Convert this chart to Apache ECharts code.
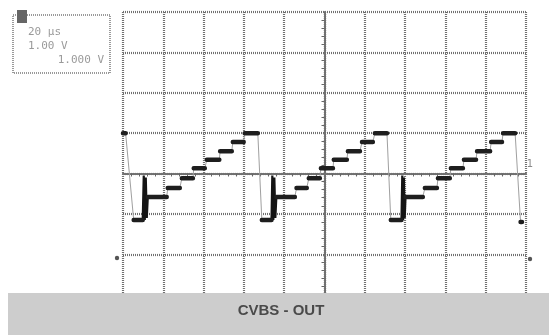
<!DOCTYPE html>
<html>
<head>
<meta charset="utf-8">
<script src="https://cdn.jsdelivr.net/npm/echarts@6/dist/echarts.min.js"></script>
<style>
  html, body { margin: 0; padding: 0; background: #fff; }
  #chart { width: 549px; height: 335px; }
</style>
</head>
<body>
<div id="chart"></div>
<script>
// Oscilloscope settings (screen readout)
const readout = ['20 µs', '1.00 V', '1.000 V'];
const title = 'CVBS - OUT';

// Time axis (µs, 20 µs/div, centred) and vertical axis (divisions)
const timeRange = [-100, 100];
const voltRange = [-4, 4];

// Trace: staircase luminance test signal
const traceTime = [
  -100, -98.7, -94.7, -90.2,
  -87.7, -78.3, -77.8, -71.8, -70.8, -65.3, -64.9, -59.4, -58.4, -52.2, -51.8, -46.0, -45.5, -40.1, -39.6, -33.1,
  -31.1, -26.3,
  -23.9, -14.7, -13.9, -8.8, -7.8, -2.3, -1.8, 4.2, 4.6, 11.1, 11.6, 17.6, 18.6, 24.0, 25.0, 31.0,
  32.9, 38.2,
  40.2, 48.8, 49.8, 55.8, 56.3, 62.2, 62.7, 68.7, 69.2, 75.2, 75.7, 82.2, 82.7, 88.1, 88.6, 94.6,
  97.3, 98.0
];
const traceVolt = [
  1.0, 1.0, -1.15, -1.15,
  -0.58, -0.58, -0.36, -0.36, -0.12, -0.12, 0.13, 0.13, 0.34, 0.34, 0.55, 0.55, 0.78, 0.78, 1.0, 1.0,
  -1.15, -1.15,
  -0.58, -0.58, -0.36, -0.36, -0.12, -0.12, 0.13, 0.13, 0.34, 0.34, 0.55, 0.55, 0.78, 0.78, 1.0, 1.0,
  -1.15, -1.15,
  -0.58, -0.58, -0.36, -0.36, -0.12, -0.12, 0.13, 0.13, 0.34, 0.34, 0.55, 0.55, 0.78, 0.78, 1.0, 1.0,
  -1.2, -1.2
];

// Colour bursts (one per line)
const burstTime = [
  [-90.2, -89.7, -89.2, -88.7, -88.2, -87.7],
  [-26.3, -25.9, -25.4, -24.9, -24.4, -23.9],
  [38.2, 38.6, 39.0, 39.4, 39.8, 40.2]
];
const burstVolt = [
  [-1.15, -0.05, -1.15, -0.1, -1.1, -0.58],
  [-1.15, -0.05, -1.15, -0.1, -1.1, -0.58],
  [-1.15, -0.05, -1.15, -0.1, -1.1, -0.58]
];

// thin full trace
const thinData = traceTime.map((t, i) => [t, traceVolt[i]]);
// thick horizontal dwell segments
const thickData = [];
for (let i = 0; i + 1 < traceTime.length; i++) {
  if (traceVolt[i] === traceVolt[i + 1]) {
    thickData.push([traceTime[i], traceVolt[i]], [traceTime[i + 1], traceVolt[i + 1]], [null, null]);
    i++;
  }
}
const burstSeries = burstTime.map((ts, k) => ({
  type: 'line', data: ts.map((t, i) => [t, burstVolt[k][i]]),
  symbol: 'none', silent: true, z: 4,
  lineStyle: { color: '#141414', width: 2.2 }
}));

const gridLine = { color: '#707070', width: 2.2, type: [1, 1] };

const chart = echarts.init(document.getElementById('chart'), null, { renderer: 'canvas' });
chart.setOption({
  backgroundColor: '#ffffff',
  animation: false,
  grid: { left: 123, right: 23, top: 12, bottom: 0, containLabel: false },
  xAxis: {
    type: 'value', min: timeRange[0], max: timeRange[1], interval: 20,
    axisLine: { show: true, onZero: true, lineStyle: gridLine },
    axisTick: { show: false },
    minorTick: { show: true, splitNumber: 5, length: 3, lineStyle: { color: '#666', width: 1 } },
    axisLabel: { show: false },
    splitLine: { show: true, lineStyle: gridLine }
  },
  yAxis: {
    type: 'value', min: voltRange[0], max: voltRange[1], interval: 1,
    axisLine: { show: true, onZero: true, lineStyle: gridLine },
    axisTick: { show: false },
    minorTick: { show: true, splitNumber: 5, length: 3, lineStyle: { color: '#666', width: 1 } },
    axisLabel: { show: false },
    splitLine: { show: true, lineStyle: gridLine }
  },
  series: [
    {
      type: 'line', data: thinData, symbol: 'none', silent: true, z: 3,
      lineStyle: { color: '#a0a0a0', width: 1 }
    },
    {
      type: 'line', data: thickData, symbol: 'none', silent: true, connectNulls: false, z: 5,
      lineStyle: { color: '#1e1e1e', width: 4.5, cap: 'round' }
    },
    ...burstSeries
  ],
  graphic: [
    { type: 'rect', shape: { x: 8, y: 293, width: 541, height: 42 }, style: { fill: '#cdcdcd' }, z: 100 },
    { type: 'text', x: 281, y: 311, z: 101,
      style: { text: title, fill: '#4a4a4a', font: 'bold 15px "Liberation Sans", Arial, sans-serif', align: 'center', verticalAlign: 'middle' } },
    { type: 'rect', shape: { x: 13, y: 15, width: 97, height: 58 }, style: { fill: 'none', stroke: '#9a9a9a', lineWidth: 2, lineDash: [1, 1] }, z: 100 },
    { type: 'rect', shape: { x: 17, y: 10, width: 10, height: 13 }, style: { fill: '#666' }, z: 101 },
    { type: 'text', x: 28, y: 32, z: 101, style: { text: readout[0], fill: '#9a9a9a', font: '11px "DejaVu Sans Mono", monospace', verticalAlign: 'middle' } },
    { type: 'text', x: 28, y: 46, z: 101, style: { text: readout[1], fill: '#9a9a9a', font: '11px "DejaVu Sans Mono", monospace', verticalAlign: 'middle' } },
    { type: 'text', x: 104, y: 60, z: 101, style: { text: readout[2], fill: '#9a9a9a', font: '11px "DejaVu Sans Mono", monospace', align: 'right', verticalAlign: 'middle' } },
    { type: 'text', x: 530, y: 164, z: 101, style: { text: '1', fill: '#8a8a8a', font: '10px "DejaVu Sans", sans-serif', align: 'center', verticalAlign: 'middle' } },
    { type: 'circle', shape: { cx: 117, cy: 258, r: 2.2 }, style: { fill: '#555' }, z: 101 },
    { type: 'circle', shape: { cx: 530, cy: 259, r: 2.2 }, style: { fill: '#555' }, z: 101 }
  ]
});
</script>
</body>
</html>
